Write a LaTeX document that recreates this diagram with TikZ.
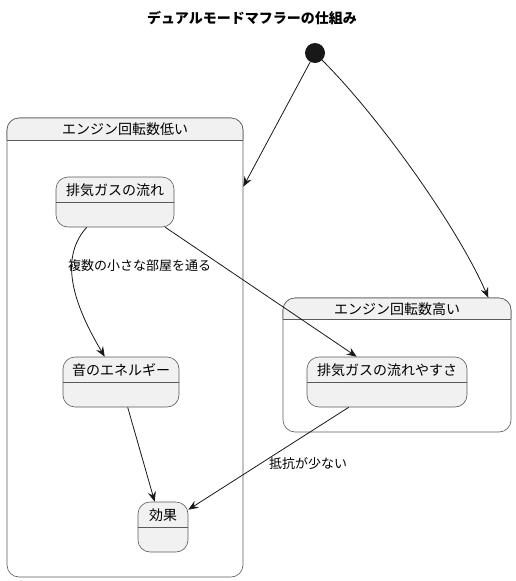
\documentclass[tikz,border=0pt]{standalone}
\usepackage{fontspec}
\setmainfont{Noto Sans CJK JP}
\usetikzlibrary{arrows.meta,calc}
\definecolor{statefill}{HTML}{F1F1F1}
\definecolor{stateline}{HTML}{5A5A5A}
\definecolor{edgecol}{HTML}{181818}
\tikzset{
  box/.style={draw=stateline, line width=0.6pt, fill=statefill, rounded corners=12pt, inner sep=0pt},
  container/.style={draw=stateline, line width=0.6pt, rounded corners=12pt, inner sep=0pt},
  lbl/.style={font=\fontsize{14}{16}\selectfont, inner sep=0pt},
  elbl/.style={font=\fontsize{13}{15}\selectfont, inner sep=0pt, anchor=west},
  edge/.style={draw=edgecol, line width=0.8pt, -{Stealth[length=10pt,width=8pt,inset=3.5pt]}},
}
\begin{document}
\begin{tikzpicture}[x=1pt,y=-1pt]
\useasboundingbox (0,0) rectangle (516,581);
% title
\node[font=\fontsize{14}{16}\selectfont\bfseries, inner sep=0pt] (title) at (252,18) {デュアルモードマフラーの仕組み};
% start
\node[circle, fill=edgecol, minimum size=20pt, inner sep=0pt] (start) at (315,53) {};
% containers
\node[container, minimum width=236pt, minimum height=459pt] (low) at (125,347.5) {};
\begin{scope}
\clip[rounded corners=12pt] (7,118) rectangle (243,577);
\fill[statefill] (7,118) rectangle (243,140);
\end{scope}
\draw[stateline, line width=0.6pt, rounded corners=12pt] (7,140) -- (7,118) -- (243,118) -- (243,140);
\draw[stateline, line width=0.6pt] (low.west |- 0,140) -- (low.east |- 0,140);
\node[lbl] (lowname) at (125,129) {エンジン回転数低い};

\node[container, minimum width=228pt, minimum height=134pt] (high) at (397,365) {};
\begin{scope}
\clip[rounded corners=12pt] (283,298) rectangle (511,432);
\fill[statefill] (283,298) rectangle (511,319);
\end{scope}
\draw[stateline, line width=0.6pt, rounded corners=12pt] (283,319) -- (283,298) -- (511,298) -- (511,319);
\draw[stateline, line width=0.6pt] (high.west |- 0,319) -- (high.east |- 0,319);
\node[lbl] (highname) at (397,309) {エンジン回転数高い};

% states
\node[box, minimum width=118pt, minimum height=50pt] (s1) at (115,202) {};
\draw[stateline, line width=0.6pt] ($(s1.north west)+(0,26)$) -- ($(s1.north east)+(0,26)$);
\node[lbl] (s1name) at (115,190) {排気ガスの流れ};

\node[box, minimum width=116pt, minimum height=50pt] (s2) at (121,382) {};
\draw[stateline, line width=0.6pt] ($(s2.north west)+(0,26)$) -- ($(s2.north east)+(0,26)$);
\node[lbl] (s2name) at (121,370) {音のエネルギー};

\node[box, minimum width=50pt, minimum height=50pt] (s3) at (163,527) {};
\draw[stateline, line width=0.6pt] ($(s3.north west)+(0,26)$) -- ($(s3.north east)+(0,26)$);
\node[lbl] (s3name) at (163,515) {効果};

\node[box, minimum width=160pt, minimum height=50pt] (s4) at (387,382) {};
\draw[stateline, line width=0.6pt] ($(s4.north west)+(0,26)$) -- ($(s4.north east)+(0,26)$);
\node[lbl] (s4name) at (387,370) {排気ガスの流れやすさ};

% edges
\coordinate (lowin) at ($(low.north east)+(0,69)$);
\coordinate (highin) at ($(high.north east)+(-23,0)$);
\draw[edge] (start) -- (lowin);
\draw[edge] (start) .. controls (380,118) and (458,228) .. (highin);

\coordinate (s1a) at ($(s1.south west)+(31,0)$);
\coordinate (s2in) at ($(s2.north west)+(42,0)$);
\draw[edge] (s1a) .. controls (62,255) and (68,295) .. (s2in);
\node[elbl] (l1) at (68,266) {複数の小さな部屋を通る};

\draw[edge] ($(s1.south east)+(-9,0)$) -- ($(s4.north west)+(50,0)$);
\draw[edge] ($(s2.south west)+(65,0)$) -- ($(s3.north west)+(17,0)$);
\draw[edge] ($(s4.south west)+(42,0)$) -- ($(s3.north east)+(0,8)$);
\node[elbl] (l2) at (269,464) {抵抗が少ない};
\end{tikzpicture}
\end{document}
